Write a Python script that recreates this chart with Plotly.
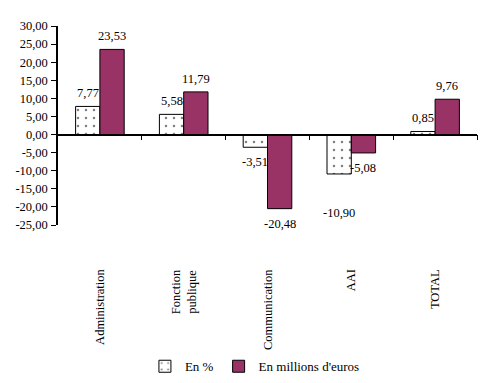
import plotly.graph_objects as go

categories = ["Administration", "Fonction<br>publique", "Communication", "AAI", "TOTAL"]
pct_values = [7.77, 5.58, -3.51, -10.90, 0.85]
eur_values = [23.53, 11.79, -20.48, -5.08, 9.76]
pct_labels = ["7,77", "5,58", "-3,51", "-10,90", "0,85"]
eur_labels = ["23,53", "11,79", "-20,48", "-5,08", "9,76"]
y_ticks = [30, 25, 20, 15, 10, 5, 0, -5, -10, -15, -20, -25]
y_tick_labels = ["30,00", "25,00", "20,00", "15,00", "10,00", "5,00", "0,00",
                 "-5,00", "-10,00", "-15,00", "-20,00", "-25,00"]
label_extra = [0, 0, 0, -24, 0]  # extra pixel shift for crowded labels (pct series)

FONT = "Liberation Serif, Times New Roman, serif"
xs = list(range(len(categories)))

fig = go.Figure()
fig.add_trace(go.Bar(
    x=xs, y=pct_values, name="En %",
    marker=dict(color="white", line=dict(color="black", width=1),
                pattern=dict(shape=".", fgcolor="black", bgcolor="white", size=8, solidity=0.08)),
    width=0.29, offset=-0.29,
))
fig.add_trace(go.Bar(
    x=xs, y=eur_values, name="En millions d'euros",
    marker=dict(color="#993366", line=dict(color="black", width=1)),
    width=0.29, offset=0,
))

annotations = []
for i, (v, t) in enumerate(zip(pct_values, pct_labels)):
    annotations.append(dict(x=i - 0.145, y=v, xref="x", yref="y", text=t, showarrow=False,
                            yanchor="bottom" if v >= 0 else "top",
                            yshift=(4 if v >= 0 else -6) + label_extra[i],
                            font=dict(family=FONT, size=12.5, color="black")))
for i, (v, t) in enumerate(zip(eur_values, eur_labels)):
    annotations.append(dict(x=i + 0.145, y=v, xref="x", yref="y", text=t, showarrow=False,
                            yanchor="bottom" if v >= 0 else "top",
                            yshift=4 if v >= 0 else -6,
                            font=dict(family=FONT, size=12.5, color="black")))
for i, c in enumerate(categories):
    annotations.append(dict(x=i, y=0, xref="x", yref="paper", text=c, showarrow=False,
                            textangle=-90, yanchor="top", xanchor="center", yshift=-42,
                            font=dict(family=FONT, size=12.5, color="black")))

# the page body has an 8px margin, so the figure is offset by (8, 8)
fig.update_layout(
    width=483, height=375,
    margin=dict(l=50, r=14, t=18, b=158, autoexpand=False),
    paper_bgcolor="white", plot_bgcolor="white",
    barmode="overlay",
    showlegend=True,
    legend=dict(orientation="h", x=0.47, xanchor="center", y=-0.71, yanchor="middle",
                font=dict(family=FONT, size=13, color="black"),
                itemwidth=30, tracegroupgap=0, bgcolor="rgba(0,0,0,0)"),
    font=dict(family=FONT, size=12.5, color="black"),
    annotations=annotations,
    xaxis=dict(range=[-0.5, 4.5], showticklabels=False, showline=False, ticks="",
               showgrid=False, zeroline=False, automargin=False),
    xaxis2=dict(range=[-0.5, 4.5], overlaying="x", anchor="free", position=25/55,
                showline=True, linecolor="black", linewidth=1.5,
                tickvals=[0.5, 1.5, 2.5, 3.5, 4.5], ticks="outside", ticklen=5,
                tickcolor="black", showticklabels=False, showgrid=False, zeroline=False,
                side="bottom", automargin=False),
    yaxis=dict(range=[-25, 30], tickvals=y_ticks, ticktext=y_tick_labels,
               showline=True, linecolor="black", linewidth=1.5, ticks="outside",
               ticklen=5, tickcolor="black", showgrid=False, zeroline=False,
               automargin=False, ticklabelstandoff=1,
               tickfont=dict(family=FONT, size=12.5, color="black")),
)
fig.add_trace(go.Scatter(x=[0], y=[0], xaxis="x2", mode="markers",
                         marker=dict(opacity=0), showlegend=False, hoverinfo="skip"))

fig.write_html("out.html")
